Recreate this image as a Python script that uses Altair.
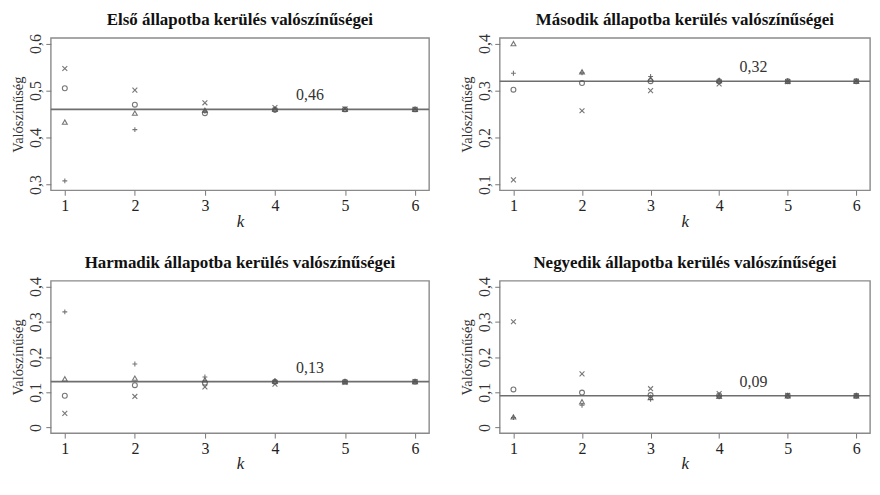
import altair as alt
import pandas as pd

k_values = [1, 2, 3, 4, 5, 6]
series_names = ["1. állapotból", "2. állapotból", "3. állapotból", "4. állapotból"]
panel_titles = [
    "Első állapotba kerülés valószínűségei",
    "Második állapotba kerülés valószínűségei",
    "Harmadik állapotba kerülés valószínűségei",
    "Negyedik állapotba kerülés valószínűségei",
]
equilibrium = [0.46, 0.32, 0.13, 0.09]
eq_labels = ["0,46", "0,32", "0,13", "0,09"]
y_ticks = [
    [0.3, 0.4, 0.5, 0.6],
    [0.1, 0.2, 0.3, 0.4],
    [0.0, 0.1, 0.2, 0.3, 0.4],
    [0.0, 0.1, 0.2, 0.3, 0.4],
]

# state 1
s1_circle = [0.505, 0.470, 0.452, 0.459, 0.460, 0.460]
s1_triangle = [0.433, 0.452, 0.458, 0.460, 0.460, 0.460]
s1_plus = [0.308, 0.417, 0.456, 0.458, 0.460, 0.460]
s1_cross = [0.547, 0.501, 0.474, 0.464, 0.461, 0.460]
# state 2
s2_circle = [0.302, 0.316, 0.320, 0.320, 0.320, 0.320]
s2_triangle = [0.400, 0.340, 0.325, 0.321, 0.320, 0.320]
s2_plus = [0.337, 0.338, 0.330, 0.322, 0.320, 0.320]
s2_cross = [0.110, 0.257, 0.300, 0.314, 0.319, 0.320]
# state 3
s3_circle = [0.090, 0.120, 0.127, 0.130, 0.130, 0.130]
s3_triangle = [0.138, 0.140, 0.135, 0.131, 0.130, 0.130]
s3_plus = [0.328, 0.180, 0.143, 0.133, 0.130, 0.130]
s3_cross = [0.040, 0.088, 0.115, 0.123, 0.128, 0.130]
# state 4
s4_circle = [0.108, 0.099, 0.092, 0.091, 0.090, 0.090]
s4_triangle = [0.030, 0.073, 0.085, 0.088, 0.090, 0.090]
s4_plus = [0.028, 0.063, 0.080, 0.087, 0.090, 0.090]
s4_cross = [0.300, 0.152, 0.110, 0.096, 0.091, 0.090]

panels_data = [
    [s1_circle, s1_triangle, s1_plus, s1_cross],
    [s2_circle, s2_triangle, s2_plus, s2_cross],
    [s3_circle, s3_triangle, s3_plus, s3_cross],
    [s4_circle, s4_triangle, s4_plus, s4_cross],
]

shape_range = ["circle", "triangle-up", "M-1,0L1,0M0,-1L0,1", "M-1,-1L1,1M-1,1L1,-1"]

SERIF = "Liberation Serif"
label_expr = "datum.value == 0 ? '0' : replace(format(datum.value, '.1f'), '.', ',')"


def make_panel(i, width):
    rows = []
    for name, vals in zip(series_names, panels_data[i]):
        for k, v in zip(k_values, vals):
            rows.append({"k": k, "series": name, "p": v})
    df = pd.DataFrame(rows)
    eq_df = pd.DataFrame({"p": [equilibrium[i]], "label": [eq_labels[i]]})

    lo, hi = min(y_ticks[i]), max(y_ticks[i])
    pad = (hi - lo) * 0.04
    yscale = alt.Scale(domain=[lo - pad, hi + pad], nice=False, zero=False)
    xscale = alt.Scale(domain=[0.8, 6.2], nice=False, zero=False)

    x = alt.X("k:Q", scale=xscale,
              axis=alt.Axis(values=k_values, format="d", title="k", titleFontStyle="italic",
                            titleFontSize=17, titleFontWeight="normal", titlePadding=0,
                            labelPadding=2, labelFont=SERIF, labelFontSize=16,
                            titleFont=SERIF, labelColor="#222", titleColor="#222"))
    y = alt.Y("p:Q", scale=yscale,
              axis=alt.Axis(values=y_ticks[i], labelExpr=label_expr, title="Valószínűség",
                            labelAngle=270, labelAlign="center", labelBaseline="bottom",
                            labelPadding=2, titlePadding=2, titleFontSize=14.5,
                            titleFontWeight="normal", labelFont=SERIF, labelFontSize=16,
                            titleFont=SERIF, labelColor="#333", titleColor="#333"))

    rule = alt.Chart(eq_df).mark_rule(color="#6e6e6e", strokeWidth=1.6).encode(y=y)
    pts = alt.Chart(df).mark_point(filled=False, size=24, strokeWidth=1.1, color="#555",
                                   opacity=0.8).encode(
        x=x, y=y,
        shape=alt.Shape("series:N", scale=alt.Scale(domain=series_names, range=shape_range),
                        legend=None),
    )
    txt = alt.Chart(eq_df).mark_text(font=SERIF, fontSize=16, color="#333", baseline="bottom",
                                     dy=-6).encode(
        x=alt.datum(4.5, scale=xscale),
        y=y,
        text="label:N",
    )
    return alt.layer(rule, pts, txt).properties(
        width=width, height=153,
        title=alt.TitleParams(panel_titles[i], font=SERIF, fontSize=17, fontWeight="bold",
                              color="#111", anchor="middle", offset=5),
    )


chart = alt.concat(
    make_panel(0, 380), make_panel(1, 372), make_panel(2, 380), make_panel(3, 372),
    columns=2, spacing={"row": 91, "column": 71}, bounds="flush",
).properties(
    padding={"left": 2, "top": 0, "right": 0, "bottom": 0}
).configure(
    background="white"
).configure_view(
    stroke="#8a8a8a", strokeWidth=1.4
).configure_axis(
    domain=False, grid=False, tickColor="#777", tickSize=5, tickWidth=1,
)

chart.save("out.html", embed_options={"renderer": "svg", "actions": False})
